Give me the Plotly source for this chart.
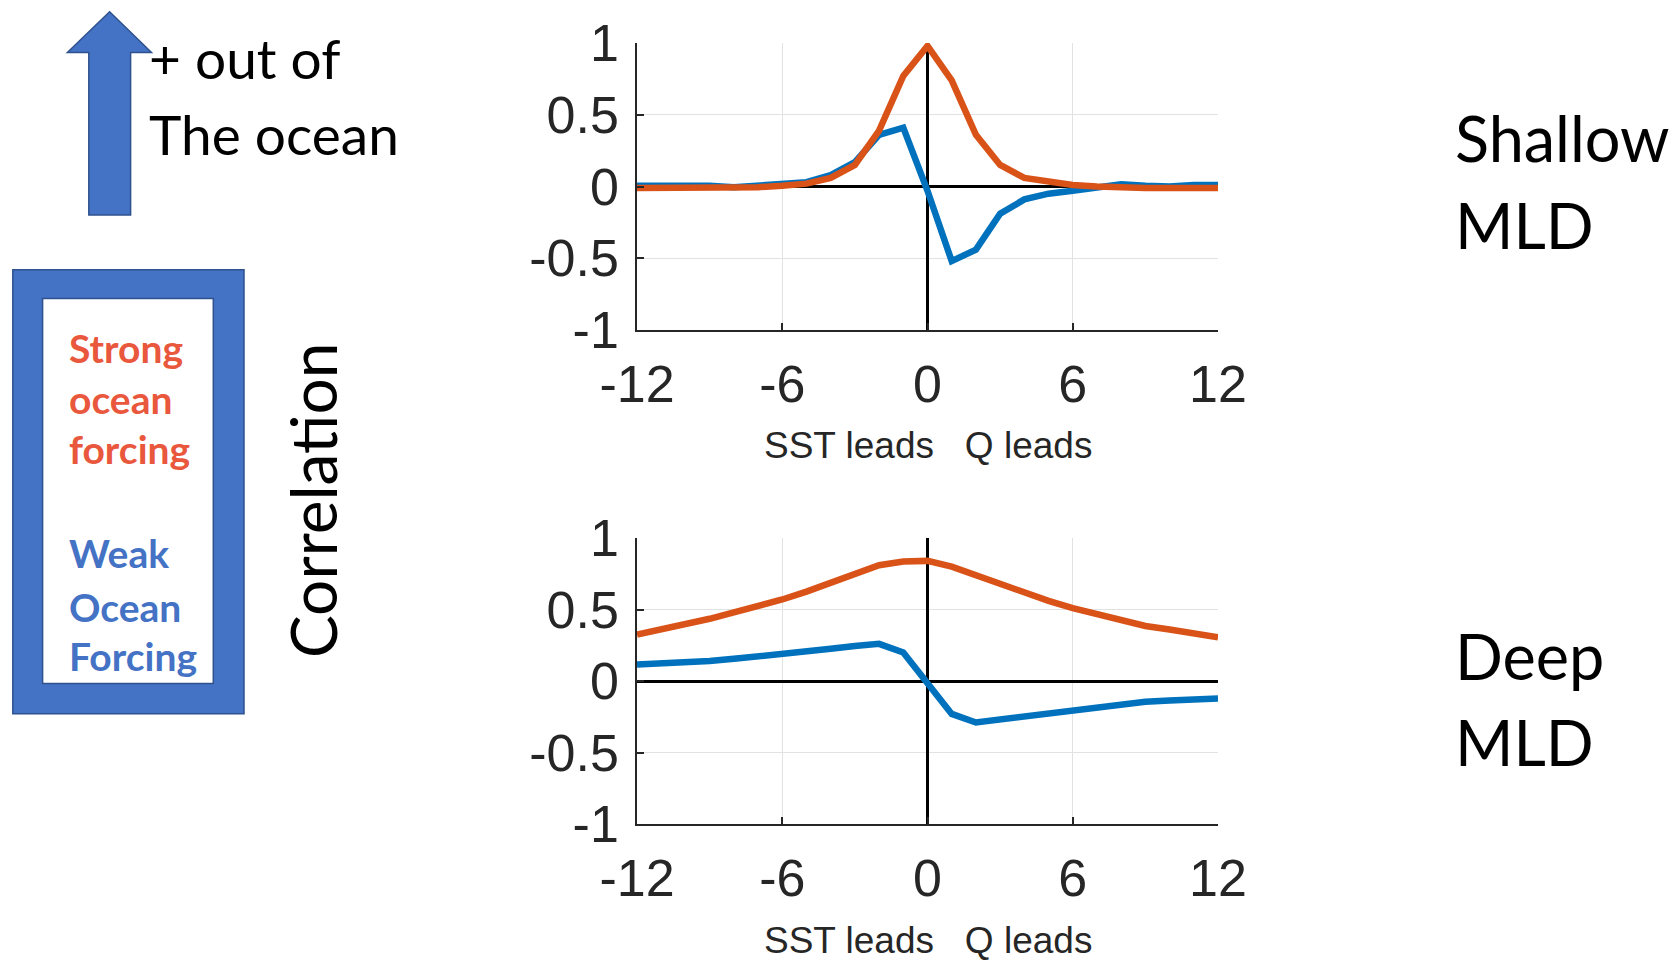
import plotly.graph_objects as go

W, H = 1678, 961

lags = list(range(-12, 13))
shallow_blue = [0.005, 0.005, 0.01, 0.005, -0.005, 0.005, 0.015, 0.03, 0.08, 0.17, 0.36, 0.41, -0.03,
                -0.52, -0.44, -0.19, -0.09, -0.05, -0.03, -0.01, 0.015, 0.005, 0.0, 0.01, 0.01]
shallow_orange = [-0.01, -0.01, -0.005, -0.005, -0.01, -0.005, 0.005, 0.02, 0.06, 0.15, 0.39, 0.77, 0.98,
                  0.74, 0.36, 0.15, 0.06, 0.03, 0.01, 0.0, -0.01, -0.01, -0.01, -0.01, -0.01]
deep_blue = [0.115, 0.12, 0.13, 0.14, 0.155, 0.17, 0.19, 0.21, 0.225, 0.245, 0.26, 0.20, -0.01,
             -0.23, -0.29, -0.27, -0.25, -0.23, -0.20, -0.18, -0.16, -0.145, -0.137, -0.13, -0.123]
deep_orange = [0.325, 0.36, 0.395, 0.435, 0.48, 0.52, 0.57, 0.625, 0.69, 0.755, 0.81, 0.835, 0.84,
               0.80, 0.74, 0.67, 0.615, 0.56, 0.51, 0.465, 0.42, 0.385, 0.36, 0.33, 0.305]

x_ticks = [-12, -6, 0, 6, 12]
x_ticklabels = ["-12", "-6", "0", "6", "12"]
y_ticks = [-1, -0.5, 0, 0.5, 1]
y_ticklabels = ["-1", "-0.5", "0", "0.5", "1"]
x_title = "SST leads\u00a0\u00a0\u00a0Q leads"

BLUE = "#0072BD"
ORANGE = "#D95319"
AX = "#262626"
HELV = "Liberation Sans Narrow, Liberation Sans, Arial"
TICKFONT = dict(family=HELV, size=52, color=AX)
CAL = "Lato, Noto Sans, sans-serif"
LW = 6.5


def px(x):
    return x / W


def py(y):
    return 1 - y / H


fig = go.Figure()
fig.add_trace(go.Scatter(x=lags, y=shallow_blue, mode="lines", line=dict(color=BLUE, width=LW),
                         xaxis="x", yaxis="y", showlegend=False))
fig.add_trace(go.Scatter(x=lags, y=shallow_orange, mode="lines", line=dict(color=ORANGE, width=LW),
                         xaxis="x", yaxis="y", showlegend=False))
fig.add_trace(go.Scatter(x=lags, y=deep_blue, mode="lines", line=dict(color=BLUE, width=LW),
                         xaxis="x2", yaxis="y2", showlegend=False))
fig.add_trace(go.Scatter(x=lags, y=deep_orange, mode="lines", line=dict(color=ORANGE, width=LW),
                         xaxis="x2", yaxis="y2", showlegend=False))

xdom = [px(637), px(1218)]
ydom_top = [py(330), py(43)]
ydom_bot = [py(824), py(538)]

xcommon = dict(range=[-12, 12], tickvals=x_ticks, ticktext=x_ticklabels, showgrid=True,
               gridcolor="#E2E2E2", gridwidth=1, zeroline=True, zerolinecolor="black",
               zerolinewidth=3, showline=True, linecolor=AX, linewidth=1.5, ticks="inside",
               ticklen=7, tickcolor=AX, tickwidth=1.5, tickfont=TICKFONT, domain=xdom,
               ticklabelstandoff=8, automargin=False)
ycommon = dict(range=[-1, 1], tickvals=y_ticks, ticktext=y_ticklabels, showgrid=True,
               gridcolor="#E2E2E2", gridwidth=1, zeroline=True, zerolinecolor="black",
               zerolinewidth=3, showline=True, linecolor=AX, linewidth=1.5, ticks="inside",
               ticklen=7, tickcolor=AX, tickwidth=1.5, tickfont=TICKFONT, ticklabelstandoff=6,
               automargin=False)

fig.update_layout(
    template="none",
    width=W, height=H, autosize=False, margin=dict(l=0, r=0, t=0, b=0, pad=0),
    paper_bgcolor="white", plot_bgcolor="white",
    xaxis=dict(**xcommon, anchor="y"),
    yaxis=dict(**ycommon, domain=ydom_top, anchor="x"),
    xaxis2=dict(**xcommon, anchor="y2"),
    yaxis2=dict(**ycommon, domain=ydom_bot, anchor="x2"),
)

shapes = []
# upward arrow
arrow = [(109.6, 11.7), (151.5, 52.4), (130.6, 52.4), (130.6, 214.9), (88.8, 214.9),
         (88.8, 52.4), (67.4, 52.4)]
path = "M " + " L ".join(f"{px(a)},{py(b)}" for a, b in arrow) + " Z"
shapes.append(dict(type="path", xref="paper", yref="paper", path=path,
                   fillcolor="#4472C4", line=dict(color="#2F528F", width=1.5)))
# framed box
shapes.append(dict(type="rect", xref="paper", yref="paper", x0=px(12.8), x1=px(244),
                   y0=py(713.8), y1=py(269.7), fillcolor="#4472C4",
                   line=dict(color="#2F528F", width=1.5)))
shapes.append(dict(type="rect", xref="paper", yref="paper", x0=px(42.6), x1=px(213.3),
                   y0=py(683.6), y1=py(298.5), fillcolor="white",
                   line=dict(color="#2F528F", width=1.5)))
fig.update_layout(shapes=shapes)

ann = []


def text(t, x, y, size, color="black", bold=False, xanchor="left", angle=0, family=CAL):
    ann.append(dict(text=f"<b>{t}</b>" if bold else t, x=px(x), y=py(y), xref="paper", yref="paper",
                    xanchor=xanchor, yanchor="middle", showarrow=False, textangle=angle,
                    font=dict(family=family, size=size, color=color)))


text("+ out of", 146.6, 58, 55)
text("The ocean", 146.6, 134, 55)
RED = "#E9573D"
for t, y in [("Strong", 348), ("ocean", 399), ("forcing", 449)]:
    text(t, 67.3, y, 39, RED, bold=True)
for t, y in [("Weak", 553), ("Ocean", 607), ("Forcing", 656)]:
    text(t, 67.3, y, 39, "#4472C4", bold=True)
text("Correlation", 312, 501, 64, xanchor="center", angle=-90)
text("Shallow", 1453, 138, 63)
text("MLD", 1453, 224, 63)
text("Deep", 1453, 655, 63)
text("MLD", 1453, 741, 63)

for yc in [446, 940]:
    ann.append(dict(text=x_title, x=0, xref="x", y=py(yc), yref="paper", xanchor="center",
                    yanchor="middle", showarrow=False,
                    font=dict(family=HELV, size=37, color=AX)))

fig.update_layout(annotations=ann)
fig.write_html("out.html")
